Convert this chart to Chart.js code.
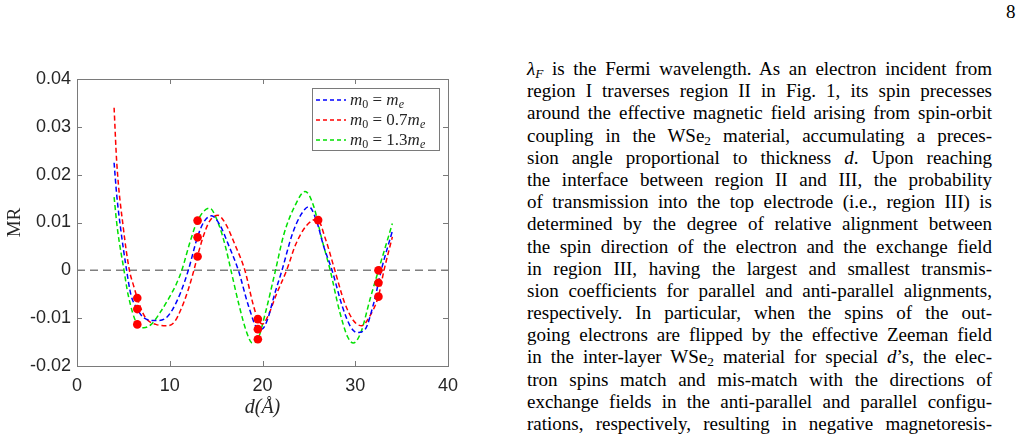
<!DOCTYPE html>
<html>
<head>
<meta charset="utf-8">
<script src="https://cdn.jsdelivr.net/npm/chart.js@4.4.1/dist/chart.umd.min.js"></script>
<style>
  html, body { margin:0; padding:0; background:#fff; width:1028px; height:447px; overflow:hidden; }
  #chartWrap { position:absolute; left:0; top:0; width:480px; height:447px; }
  #page { position:absolute; left:1006px; top:1px; font-family:"Liberation Serif", serif; font-size:19px; color:#000; }
  #text { position:absolute; left:527px; top:58px; width:465px; font-family:"Liberation Serif", serif; font-size:19px; color:#000; }
  #text .ln { height:22.2px; line-height:22.2px; text-align:justify; text-align-last:justify; white-space:nowrap; }
  #text sub { font-size:0.7em; vertical-align:-0.25em; line-height:0; }
</style>
</head>
<body>
<div id="chartWrap"><canvas id="c" width="480" height="447"></canvas></div>
<div id="page">8</div>
<div id="text">
  <div class="ln"><i>λ</i><sub><i>F</i></sub> is the Fermi wavelength. As an electron incident from</div>
  <div class="ln">region I traverses region II in Fig. 1, its spin precesses</div>
  <div class="ln">around the effective magnetic field arising from spin-orbit</div>
  <div class="ln">coupling in the WSe<sub>2</sub> material, accumulating a preces-</div>
  <div class="ln">sion angle proportional to thickness <i>d</i>. Upon reaching</div>
  <div class="ln">the interface between region II and III, the probability</div>
  <div class="ln">of transmission into the top electrode (i.e., region III) is</div>
  <div class="ln">determined by the degree of relative alignment between</div>
  <div class="ln">the spin direction of the electron and the exchange field</div>
  <div class="ln">in region III, having the largest and smallest transmis-</div>
  <div class="ln">sion coefficients for parallel and anti-parallel alignments,</div>
  <div class="ln">respectively. In particular, when the spins of the out-</div>
  <div class="ln">going electrons are flipped by the effective Zeeman field</div>
  <div class="ln">in the inter-layer WSe<sub>2</sub> material for special <i>d</i>’s, the elec-</div>
  <div class="ln">tron spins match and mis-match with the directions of</div>
  <div class="ln">exchange fields in the anti-parallel and parallel configu-</div>
  <div class="ln">rations, respectively, resulting in negative magnetoresis-</div>
</div>
<script>
// ---- data ----
const seriesLabels = ["m0 = me", "m0 = 0.7me", "m0 = 1.3me"];
const seriesColors = ["#0000ff", "#ff0000", "#00e000"];

const blueD  = [4.0, 4.28, 4.7, 5.35, 5.8, 6.5, 7.2, 8.5, 9.5, 10.3, 11.2, 12.0, 13.0, 13.7, 14.5, 15.4, 16.4, 17.4, 18.5, 19.5, 19.9, 20.5, 21.3, 22.1, 23.2, 24.2, 25.0, 25.8, 26.6, 27.5, 28.6, 29.5, 30.2, 31.0, 32.0, 32.5, 32.8, 34.0];
const blueMR = [0.0225, 0.0158, 0.0088, 0, -0.005, -0.0081, -0.0099, -0.0105, -0.0101, -0.0082, -0.0045, 0, 0.007, 0.0102, 0.0114, 0.0095, 0.005, 0, -0.0075, -0.0122, -0.0123, -0.0105, -0.005, 0, 0.0075, 0.0118, 0.0133, 0.0105, 0.005, 0, -0.0075, -0.0118, -0.013, -0.0125, -0.0068, -0.0026, 0, 0.0082];

const redD  = [4.0, 4.28, 5.0, 5.65, 6.1, 6.5, 7.0, 7.5, 8.5, 9.7, 10.5, 11.2, 12.0, 12.6, 13.0, 13.6, 14.3, 15.2, 16.0, 17.0, 18.1, 19.0, 19.5, 20.0, 20.6, 21.5, 22.6, 23.6, 24.8, 25.9, 26.8, 27.8, 28.8, 29.8, 30.7, 31.5, 32.5, 33.1, 34.0];
const redMR = [0.034, 0.0227, 0.0088, 0, -0.0032, -0.0058, -0.0085, -0.0102, -0.0113, -0.0116, -0.0108, -0.0082, -0.004, 0, 0.003, 0.007, 0.0103, 0.0115, 0.0098, 0.0055, 0, -0.0072, -0.0102, -0.0112, -0.0095, -0.005, 0, 0.0055, 0.0095, 0.0107, 0.0065, 0, -0.0065, -0.0105, -0.0116, -0.0098, -0.0054, 0, 0.007];

const greenD  = [4.0, 4.35, 5.07, 5.5, 6.5, 7.2, 8.0, 9.0, 10.0, 10.7, 11.3, 12.2, 13.0, 14.3, 15.3, 16.0, 16.6, 17.5, 18.3, 18.9, 19.5, 20.3, 21.4, 22.3, 23.5, 24.6, 25.5, 26.4, 27.3, 28.3, 29.2, 29.8, 30.6, 31.6, 32.5, 34.0];
const greenMR = [0.0153, 0.0088, 0, -0.005, -0.0113, -0.012, -0.0113, -0.0087, -0.0055, -0.0029, 0, 0.006, 0.0104, 0.013, 0.0095, 0.005, 0, -0.0075, -0.013, -0.0152, -0.0144, -0.009, 0, 0.0075, 0.0135, 0.0165, 0.0135, 0.0065, 0, -0.0085, -0.014, -0.0152, -0.013, -0.006, 0, 0.0098];

const dotD  = [6.5, 6.5, 6.5, 13, 13, 13, 19.5, 19.5, 19.5, 26, 32.5, 32.5, 32.5];
const dotMR = [-0.0058, -0.0081, -0.0113, 0.0104, 0.0069, 0.0029, -0.0102, -0.0123, -0.0144, 0.0105, 0, -0.0026, -0.0055];

const zeroD  = [0, 40];
const zeroMR = [0, 0];

const xTicks = [0, 10, 20, 30, 40];
const yTicks = [-0.02, -0.01, 0, 0.01, 0.02, 0.03, 0.04];
const yTickLabels = ["-0.02", "-0.01", "0", "0.01", "0.02", "0.03", "0.04"];
const xTitle = "d(Å)";
const yTitle = "MR";

// ---- build ----
const pts = (xs, ys) => xs.map((x, i) => ({ x: x, y: ys[i] }));
const AXC = "#262626";
const FRAME = "#7a7a7a";

const curve = (label, color, xs, ys) => ({
  label: label, data: pts(xs, ys), borderColor: color, backgroundColor: color,
  borderWidth: 1.5, borderDash: [5, 3], pointRadius: 0, fill: false,
  cubicInterpolationMode: "monotone", order: 2
});

const datasets = [
  { label: "zero", data: pts(zeroD, zeroMR), borderColor: "#808080", borderWidth: 1.5,
    borderDash: [8, 5], pointRadius: 0, fill: false, order: 3 },
  curve(seriesLabels[0], seriesColors[0], blueD, blueMR),
  curve(seriesLabels[1], seriesColors[1], redD, redMR),
  curve(seriesLabels[2], seriesColors[2], greenD, greenMR),
  { label: "dots", type: "scatter", data: pts(dotD, dotMR), showLine: false,
    pointRadius: 4.3, pointBackgroundColor: "#ff0000", pointBorderColor: "#ff0000",
    pointBorderWidth: 0, order: 1 }
];

// frame with inward ticks (MATLAB "box on")
const framePlugin = {
  id: "frame",
  afterDatasetsDraw(chart) {
    const { ctx, chartArea: a, scales } = chart;
    ctx.save();
    ctx.strokeStyle = FRAME;
    ctx.lineWidth = 1;
    ctx.setLineDash([]);
    ctx.strokeRect(Math.round(a.left) + 0.5, Math.round(a.top) + 0.5,
                   Math.round(a.right - a.left), Math.round(a.bottom - a.top));
    const L = 5;
    ctx.beginPath();
    xTicks.forEach(v => {
      const px = Math.round(scales.x.getPixelForValue(v)) + 0.5;
      ctx.moveTo(px, a.bottom); ctx.lineTo(px, a.bottom - L);
      ctx.moveTo(px, a.top); ctx.lineTo(px, a.top + L);
    });
    yTicks.forEach(v => {
      const py = Math.round(scales.y.getPixelForValue(v)) + 0.5;
      ctx.moveTo(a.left, py); ctx.lineTo(a.left + L, py);
      ctx.moveTo(a.right, py); ctx.lineTo(a.right - L, py);
    });
    ctx.stroke();
    ctx.restore();
  }
};

// legend box with math-style labels
const legendPlugin = {
  id: "mathLegend",
  afterDraw(chart) {
    const { ctx, chartArea: a } = chart;
    const w = 127, h = 62;
    const x0 = a.right - 9 - w, y0 = a.top + 9;
    ctx.save();
    ctx.fillStyle = "#fff";
    ctx.fillRect(x0, y0, w, h);
    ctx.strokeStyle = FRAME;
    ctx.lineWidth = 1;
    ctx.strokeRect(Math.round(x0) + 0.5, Math.round(y0) + 0.5, w, h);
    const coefs = ["", "0.7", "1.3"];
    const main = 17, sub = 12;
    [1, 2, 3].forEach((di, i) => {
      const ds = chart.data.datasets[di];
      const yy = y0 + 12 + i * 20;
      ctx.strokeStyle = ds.borderColor;
      ctx.lineWidth = 1.5;
      ctx.setLineDash([4, 3]);
      ctx.beginPath();
      ctx.moveTo(x0 + 4, yy); ctx.lineTo(x0 + 34, yy);
      ctx.stroke();
      ctx.setLineDash([]);
      ctx.fillStyle = "#262626";
      ctx.textBaseline = "alphabetic";
      let x = x0 + 38;
      const base = yy + 5;
      const seg = (t, font, dy) => { ctx.font = font; ctx.fillText(t, x, base + dy); x += ctx.measureText(t).width; };
      seg("m", "italic " + main + "px 'Liberation Serif'", 0);
      seg("0", sub + "px 'Liberation Serif'", 3);
      seg(" = ", main + "px 'Liberation Serif'", 0);
      if (coefs[i]) seg(coefs[i], main + "px 'Liberation Serif'", 0);
      seg("m", "italic " + main + "px 'Liberation Serif'", 0);
      seg("e", "italic " + sub + "px 'Liberation Serif'", 3);
    });
    ctx.restore();
  }
};

new Chart(document.getElementById("c"), {
  type: "line",
  data: { datasets: datasets },
  options: {
    responsive: false,
    animation: false,
    devicePixelRatio: 1,
    layout: { padding: { left: 0, top: 79, right: 32, bottom: 0 } },
    plugins: { legend: { display: false }, tooltip: { enabled: false } },
    scales: {
      x: {
        type: "linear", min: 0, max: 40,
        afterBuildTicks: s => { s.ticks = xTicks.map(v => ({ value: v })); },
        afterFit: s => { s.height = 81; s.paddingLeft = 0; s.paddingRight = 0; },
        grid: { display: false, drawTicks: false },
        border: { display: false },
        ticks: { color: AXC, font: { family: "'Liberation Sans'", size: 18 }, padding: 9, maxRotation: 0,
                 callback: v => String(v) },
        title: { display: true, text: xTitle, color: AXC,
                 font: { family: "'Liberation Serif'", size: 20, style: "italic" }, padding: { top: 27, bottom: 27 } }
      },
      y: {
        type: "linear", min: -0.02, max: 0.04,
        afterBuildTicks: s => { s.ticks = yTicks.map(v => ({ value: v })); },
        afterFit: s => { s.width = 77; s.paddingTop = 0; s.paddingBottom = 0; },
        grid: { display: false, drawTicks: false },
        border: { display: false },
        ticks: { color: AXC, font: { family: "'Liberation Sans'", size: 18 }, padding: 6,
                 callback: v => { const i = yTicks.findIndex(t => Math.abs(t - v) < 1e-9); return i >= 0 ? yTickLabels[i] : ""; } },
        title: { display: true, text: yTitle, color: AXC,
                 font: { family: "'Liberation Serif'", size: 19 }, padding: { top: 4, bottom: 4 } }
      }
    }
  },
  plugins: [framePlugin, legendPlugin]
});
</script>
</body>
</html>
